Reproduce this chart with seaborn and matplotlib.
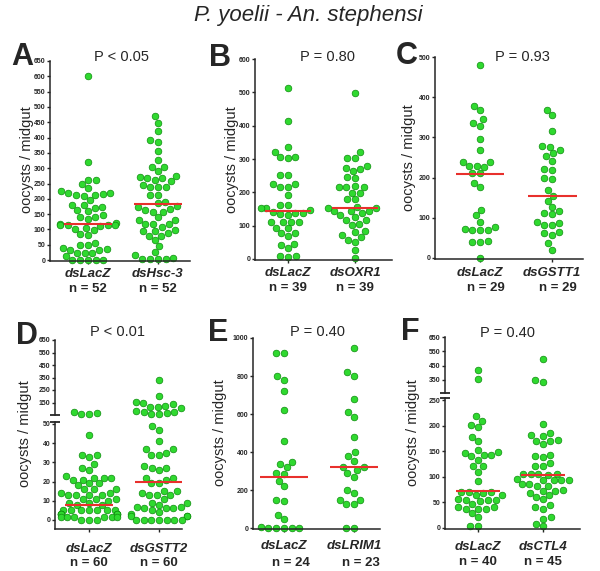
import numpy as np
import pandas as pd
import seaborn as sns
import matplotlib
matplotlib.use('Agg')
import matplotlib.pyplot as plt

# oocyst counts (one list per group)
a_lacz = [600, 320, 262, 262, 250, 235, 225, 218, 212, 212, 210, 215, 220, 195, 180, 180,
          172, 170, 162, 160, 148, 140, 140, 135, 120, 118, 115, 112, 115, 114, 116, 105,
          103, 98, 85, 82, 57, 50, 38, 33, 33, 36, 48, 22, 22, 24, 13, 0, 0, 0, 0, 0]
a_hsc3 = [470, 448, 420, 392, 385, 355, 328, 305, 305, 290, 275, 268, 260, 258, 268, 272,
          245, 238, 238, 240, 212, 212, 172, 168, 185, 190, 175, 158, 158, 162, 140, 130,
          130, 117, 117, 118, 108, 95, 97, 88, 94, 80, 78, 65, 45, 25, 15, 8, 3, 3, 3, 5]
b_lacz = [513, 415, 337, 322, 307, 302, 307, 252, 252, 225, 217, 217, 225, 192, 162, 152,
          152, 147, 162, 142, 137, 137, 132, 135, 112, 110, 112, 112, 92, 94, 79, 77, 69,
          42, 45, 32, 9, 7, 9]
b_oxr1 = [497, 320, 304, 304, 279, 269, 265, 274, 244, 245, 217, 220, 217, 215, 199, 199,
          179, 179, 145, 155, 152, 152, 145, 145, 132, 127, 137, 117, 117, 105, 102, 84,
          82, 72, 65, 51, 57, 27, 2]
c_lacz = [481, 377, 367, 346, 336, 329, 296, 269, 238, 240, 230, 228, 226, 211, 211, 187,
          177, 120, 106, 90, 77, 70, 69, 69, 73, 41, 39, 43, 0]
c_gstt1 = [369, 356, 317, 276, 269, 278, 254, 260, 242, 220, 222, 200, 196, 168, 155, 143,
           128, 113, 109, 118, 89, 81, 83, 87, 61, 58, 65, 37, 21]
d_lacz = [78, 60, 58, 66, 44, 34, 33, 34, 29, 26, 27, 23, 22, 21, 21, 22, 22, 18, 19, 19,
          14, 16, 16, 16, 14, 13, 13, 13, 13, 11, 11, 11, 10, 9, 8, 8, 9,
          5, 5, 5, 5, 5, 5, 5, 3, 3, 3, 3, 3, 3, 3, 1.5, 1.5, 1.5, 1.5, 1.5, 1.5, 0, 0, 0]
d_gstt2 = [330, 203, 158, 140, 118, 113, 124, 145, 105, 84, 71, 71, 55, 55, 66,
           49, 47, 41, 37, 37, 34, 34, 35, 28, 27, 26, 27, 22, 22, 19, 21, 19, 15, 14, 13,
           13, 13, 15, 11, 9, 9, 8, 6, 6, 7, 6, 7, 5, 4, 3, 2, 2, 2, 0, 0, 0, 0, 0, 0, 0]
e_lacz = [920, 920, 800, 780, 720, 620, 460, 335, 350, 320, 285, 290, 250, 220, 140, 150,
          70, 45, 0, 0, 0, 0, 0, 5]
e_lrim1 = [950, 800, 820, 680, 585, 610, 480, 400, 380, 355, 320, 305, 320, 290, 270, 185,
           200, 150, 125, 125, 148, 0, 0]
f_lacz = [421, 355, 219, 210, 198, 201, 177, 169, 153, 149, 147, 143, 143, 140, 133, 121,
          121, 110, 92, 70, 69, 71, 71, 64, 64, 56, 54, 52, 55, 55, 47, 41, 38, 38, 38, 41,
          30, 21, 4, 4]
f_ctl4 = [496, 338, 348, 203, 186, 180, 181, 172, 169, 164, 170, 143, 138, 141, 127, 121,
          121, 106, 106, 104, 106, 105, 96, 93, 93, 93, 93, 86, 86, 83, 83, 73, 73, 69, 75,
          65, 60, 56, 45, 41, 38, 21, 18, 3, 7]

medians = {'A': [117, 183], 'B': [145, 154], 'C': [210, 155],
           'D': [8, 20], 'E': [266, 320], 'F': [72, 103]}
n_labels = {'A': [52, 52], 'B': [39, 39], 'C': [29, 29],
            'D': [60, 60], 'E': [24, 23], 'F': [40, 45]}
p_values = {'A': 'P < 0.05', 'B': 'P = 0.80', 'C': 'P = 0.93',
            'D': 'P < 0.01', 'E': 'P = 0.40', 'F': 'P = 0.40'}

sns.set_style('ticks')
plt.rcParams['font.family'] = ['Liberation Sans', 'DejaVu Sans']

W, H = 600, 571
GREEN = '#2fd92f'
EDGE = '#0e8c0e'
RED = '#e8302c'

fig = plt.figure(figsize=(W / 100, H / 100), dpi=100)


def box(l, t, r, b):
    return [l / W, 1 - b / H, (r - l) / W, (b - t) / H]


def swarm(ax, groups, series):
    df = pd.DataFrame({'group': np.repeat(groups, [len(s) for s in series]),
                       'value': np.concatenate([np.asarray(s, float) for s in series])})
    sns.swarmplot(data=df, x='group', y='value', order=groups, ax=ax, color=GREEN,
                  edgecolor=EDGE, linewidth=0.5, size=4.8, zorder=2)
    for c in ax.collections:
        c.set_clip_on(False)
    ax.set_xlabel('')
    ax.set_ylabel('')


def style_y(ax, ylim, yticks):
    ax.set_ylim(ylim)
    ax.set_yticks(yticks)
    ax.set_yticklabels([str(t) for t in yticks], fontsize=5, fontweight='bold')
    ax.tick_params(axis='y', length=2.5, width=1, pad=1)
    for s in ['top', 'right']:
        ax.spines[s].set_visible(False)
    for s in ['left', 'bottom']:
        ax.spines[s].set_linewidth(1.1)


def bottom_axis(ax, key, groups, xlim, gene_off, n_off, n_dx=0):
    ax.set_xlim(xlim)
    ax.set_xticks([0, 1])
    ax.set_xticklabels(['', ''])
    ax.tick_params(axis='x', length=2.5, width=1)
    for i, g in enumerate(groups):
        ax.hlines(medians[key][i], i - 0.34, i + 0.34, color=RED, lw=1.5, zorder=3)
        ax.annotate(g, xy=(i, 0), xycoords=('data', 'axes fraction'),
                    xytext=(0, -gene_off * 0.72), textcoords='offset points',
                    ha='center', va='center', fontsize=9.5, fontweight='bold',
                    fontstyle='italic')
        ax.annotate('n = %d' % n_labels[key][i], xy=(i, 0), xycoords=('data', 'axes fraction'),
                    xytext=(n_dx * 0.72, -n_off * 0.72), textcoords='offset points',
                    ha='center', va='center', fontsize=9.5, fontweight='bold')


def break_marks(ax_top, ax_low):
    ax_top.spines['bottom'].set_visible(False)
    ax_top.set_xticks([])
    ax_top.plot([0], [0], marker='_', ms=7, mew=1.1, color='k',
                transform=ax_top.transAxes, clip_on=False)
    ax_low.plot([0], [1], marker='_', ms=7, mew=1.1, color='k',
                transform=ax_low.transAxes, clip_on=False)


def labels(key, letter_xy, p_xy, ylab_xy):
    fig.text(letter_xy[0] / W, 1 - letter_xy[1] / H, key, fontsize=22, fontweight='bold',
             ha='center', va='center')
    fig.text(p_xy[0] / W, 1 - p_xy[1] / H, p_values[key], fontsize=10.5,
             ha='center', va='center')
    fig.text(ylab_xy[0] / W, 1 - ylab_xy[1] / H, 'oocysts / midgut', fontsize=10.5,
             rotation=90, ha='center', va='center')


# simple panels A, B, C, E
simple = [
    ('A', ['dsLacZ', 'dsHsc-3'], [a_lacz, a_hsc3], (50, 61, 190, 261), (-3, 650),
     list(range(0, 651, 50)), (-0.54, 1.46), 13, 28, 0, (22, 57), (122, 57), (27, 160)),
    ('B', ['dsLacZ', 'dsOXR1'], [b_lacz, b_oxr1], (255, 59, 392, 260), (-3, 600),
     list(range(0, 601, 100)), (-0.49, 1.55), 13, 28, 0, (220, 58), (327, 57), (232, 160)),
    ('C', ['dsLacZ', 'dsGSTT1'], [c_lacz, c_gstt1], (435, 57, 583, 259), (-2.5, 500),
     list(range(0, 501, 100)), (-0.625, 1.43), 14, 29, 6, (407, 56), (522, 57), (409, 158)),
    ('E', ['dsLacZ', 'dsLRIM1'], [e_lacz, e_lrim1], (253, 338, 380, 529), (-5, 1000),
     list(range(0, 1001, 200)), (-0.44, 1.37), 17, 34, 7, (218, 333), (318, 332), (220, 433)),
]
for key, groups, series, px, ylim, yt, xlim, goff, noff, ndx, lxy, pxy, yxy in simple:
    ax = fig.add_axes(box(*px))
    swarm(ax, groups, series)
    style_y(ax, ylim, yt)
    bottom_axis(ax, key, groups, xlim, goff, noff, ndx)
    labels(key, lxy, pxy, yxy)

# broken-axis panels D, F
broken = [
    ('D', ['dsLacZ', 'dsGSTT2'], [d_lacz, d_gstt2], 51,
     (55, 340, 182, 415), (50, 650), list(range(150, 651, 100)),
     (55, 422, 182, 529), (-4.7, 51), list(range(0, 51, 10)),
     (-0.49, 1.33), 20, 34, (27, 336), (118, 332), (25, 434)),
    ('F', ['dsLacZ', 'dsCTL4'], [f_lacz, f_ctl4], 254,
     (445, 337, 580, 393), (259, 650), list(range(350, 651, 100)),
     (445, 398, 580, 529), (-2, 254), list(range(0, 251, 50)),
     (-0.51, 1.57), 18, 33, (410, 332), (508, 333), (413, 433)),
]
for (key, groups, series, cut, px_t, ylim_t, yt_t, px_b, ylim_b, yt_b, xlim,
     goff, noff, lxy, pxy, yxy) in broken:
    ax_t = fig.add_axes(box(*px_t))
    ax_b = fig.add_axes(box(*px_b))
    swarm(ax_t, groups, [[v for v in s if v > cut] for s in series])
    swarm(ax_b, groups, [[v for v in s if v <= cut] for s in series])
    style_y(ax_t, ylim_t, yt_t)
    style_y(ax_b, ylim_b, yt_b)
    ax_t.set_xlim(xlim)
    bottom_axis(ax_b, key, groups, xlim, goff, noff)
    break_marks(ax_t, ax_b)
    labels(key, lxy, pxy, yxy)

fig.text(308 / W, 1 - 15 / H, 'P. yoelii - An. stephensi', fontsize=16,
         fontstyle='italic', ha='center', va='center')

fig.savefig('out.png', dpi=100)
